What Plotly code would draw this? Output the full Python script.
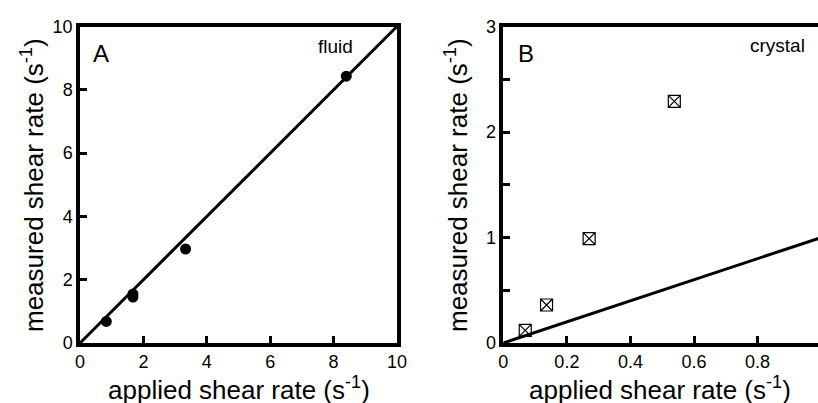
import plotly.graph_objects as go

W, H = 818, 403

# ---- data ----
fluid_applied = [0.83, 1.67, 1.67, 3.33, 8.40]
fluid_measured = [0.68, 1.45, 1.55, 2.97, 8.43]
fluid_fit_x = [0, 10]
fluid_fit_y = [0, 10]

crystal_applied = [0.069, 0.136, 0.270, 0.538]
crystal_measured = [0.12, 0.36, 0.99, 2.29]
crystal_fit_x = [0, 1.2]
crystal_fit_y = [0, 1.2]

a_ticks = [0, 2, 4, 6, 8, 10]
b_xticks = [0, 0.2, 0.4, 0.6, 0.8]
b_xticklabels = ["0", "0.2", "0.4", "0.6", "0.8"]
b_yticks = [0, 1, 2, 3]
b_yminor = [0.5, 1.5, 2.5]

FONT = "Liberation Sans, Arial, Helvetica, sans-serif"

def px(x):
    return x / W

def py(y):
    return 1 - y / H

fig = go.Figure()

fig.add_trace(go.Scatter(x=fluid_fit_x, y=fluid_fit_y, mode="lines",
                         line=dict(color="black", width=3),
                         xaxis="x", yaxis="y", showlegend=False))
fig.add_trace(go.Scatter(x=fluid_applied, y=fluid_measured, mode="markers",
                         marker=dict(symbol="circle", size=11, color="black"),
                         xaxis="x", yaxis="y", showlegend=False, cliponaxis=False))

fig.add_trace(go.Scatter(x=crystal_fit_x, y=crystal_fit_y, mode="lines",
                         line=dict(color="black", width=3),
                         xaxis="x2", yaxis="y2", showlegend=False))
fig.add_trace(go.Scatter(x=crystal_applied, y=crystal_measured, mode="markers",
                         marker=dict(symbol="square-x-open", size=12, color="black",
                                     line=dict(width=1.2, color="black")),
                         xaxis="x2", yaxis="y2", showlegend=False, cliponaxis=False))

ax_common = dict(showgrid=False, zeroline=False, showline=True, linecolor="black",
                 linewidth=3.5, ticks="inside", ticklen=7, tickwidth=2.5,
                 tickcolor="black", automargin=False,
                 tickfont=dict(family=FONT, size=18, color="black"))

ydom = [py(343), py(26.5)]

fig.update_layout(
    width=W, height=H,
    margin=dict(l=0, r=0, t=0, b=0),
    paper_bgcolor="white", plot_bgcolor="white",
    xaxis=dict(domain=[px(80), px(397)], range=[0, 10], tickvals=a_ticks,
               mirror=True, anchor="y", **ax_common),
    yaxis=dict(domain=ydom, range=[0, 10], tickvals=a_ticks,
               mirror=True, anchor="x", **ax_common),
    xaxis2=dict(domain=[px(503.3), 1.0], range=[0, 0.99], tickvals=b_xticks,
                ticktext=b_xticklabels, mirror=True, anchor="y2", **ax_common),
    yaxis2=dict(domain=ydom, range=[0, 3], tickvals=b_yticks,
                minor=dict(tickvals=b_yminor, ticks="inside", ticklen=7,
                           tickwidth=2.5, tickcolor="black", showgrid=False),
                mirror=False, anchor="x2", **ax_common),
)

ann = []
def add_text(text, x, y, size, xanchor="center", yanchor="middle", angle=0):
    ann.append(dict(text=text, x=px(x), y=py(y), xref="paper", yref="paper",
                    showarrow=False, xanchor=xanchor, yanchor=yanchor,
                    textangle=angle, font=dict(family=FONT, size=size, color="black")))

xtitle = "applied shear rate (s<sup>-1</sup>)"
ytitle = "measured shear rate (s<sup>-1</sup>)"
add_text(xtitle, 238.5, 388, 26)
add_text(xtitle, 660, 388, 26)
add_text(ytitle, 32, 185, 26, angle=-90)
add_text(ytitle, 456, 185, 26, angle=-90)
add_text("A", 91, 53, 24, xanchor="left")
add_text("fluid", 316, 46.5, 19, xanchor="left")
add_text("B", 516, 53, 24, xanchor="left")
add_text("crystal", 748, 45, 19, xanchor="left")

fig.update_layout(annotations=ann)

fig.write_html("out.html", config={"displayModeBar": False},
               post_script="document.body.style.margin='0';document.body.style.overflow='hidden';")
